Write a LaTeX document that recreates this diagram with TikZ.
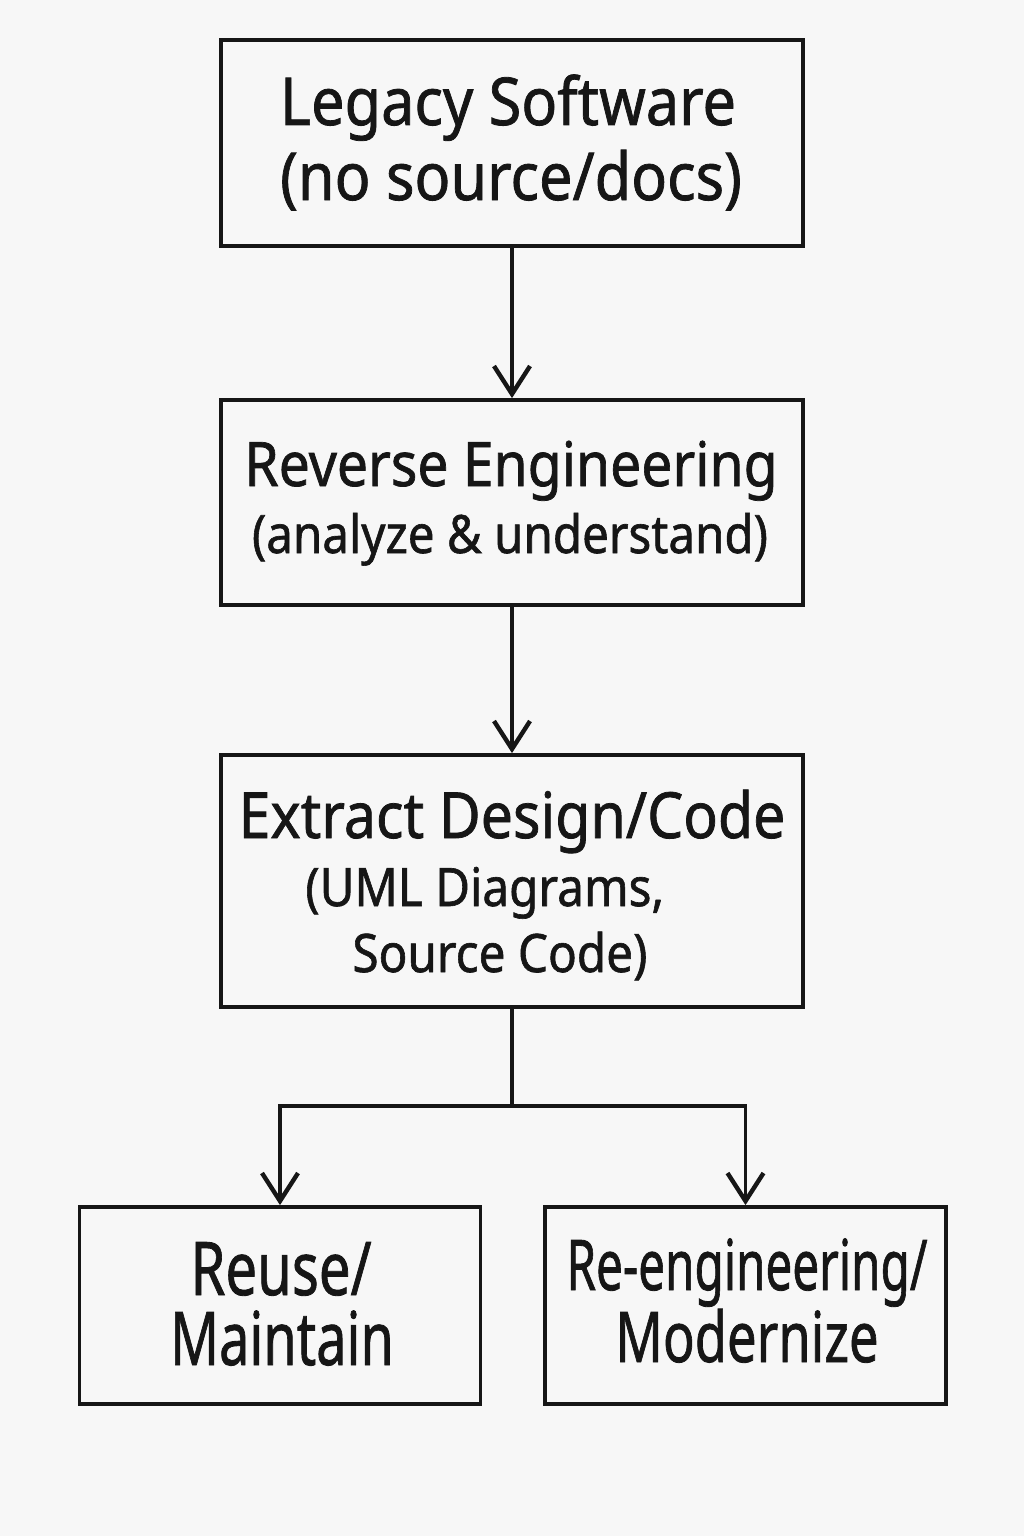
\documentclass[tikz,border=0pt]{standalone}
\usepackage{fontspec}
\usepackage{graphicx}
\setmainfont{Noto Sans}[FakeBold=1.2]
\usetikzlibrary{arrows.meta}
\definecolor{bg}{HTML}{F7F7F7}
\definecolor{ink}{HTML}{161616}
\newcommand{\fs}[1]{\fontsize{#1}{#1}\selectfont}
\newcommand{\sx}[2]{\scalebox{#1}[1]{#2}}
\tikzset{
  box/.style={draw=ink, line width=1.9pt, fill=none, inner sep=0pt},
  txt/.style={anchor=base, inner sep=0pt, text=ink},
  conn/.style={draw=ink, line width=1.8pt},
  arr/.style={conn, -{Straight Barb[length=14pt,width=18pt,line width=2.2pt]}}
}
\begin{document}
\begin{tikzpicture}[x=0.5pt,y=-0.5pt]
\fill[bg] (0,0) rectangle (1024,1536);
\useasboundingbox (0,0) rectangle (1024,1536);

\node[box, minimum width=291pt, minimum height=103pt] (b1) at (512,143) {};
\node[box, minimum width=291pt, minimum height=102.5pt] (b2) at (512,502.5) {};
\node[box, minimum width=291pt, minimum height=126pt] (b3) at (512,881) {};
\node[box, minimum width=200.5pt, minimum height=98.5pt] (b4) at (280,1305.5) {};
\node[box, minimum width=200.5pt, minimum height=98.5pt] (b5) at (745.5,1305.5) {};

\node[txt, font=\fs{33pt}] (t11) at (508,125) {\sx{0.9}{Legacy Software}};
\node[txt, font=\fs{33pt}] (t12) at (511,200) {\sx{0.9}{(no source/docs)}};

\node[txt, font=\fs{30.7pt}] (t21) at (511,486) {\sx{0.9}{Reverse Engineering}};
\node[txt, font=\fs{26.4pt}] (t22) at (510,553) {\sx{0.9}{(analyze \& understand)}};

\node[txt, font=\fs{31.8pt}] (t31) at (512,838) {\sx{0.9}{Extract Design/Code}};
\node[txt, font=\fs{26.5pt}, anchor=base west] (t32) at (305,906) {\sx{0.9}{(UML Diagrams,}};
\node[txt, font=\fs{26.5pt}, anchor=base west] (t33) at (352,972) {\sx{0.9}{Source Code)}};

\node[txt, font=\fs{37pt}] (t41) at (281,1295) {\sx{0.76}{Reuse/}};
\node[txt, font=\fs{37pt}] (t42) at (282,1365) {\sx{0.73}{Maintain}};

\node[txt, font=\fs{35pt}] (t51) at (747,1290) {\sx{0.68}{Re-engineering/}};
\node[txt, font=\fs{35pt}] (t52) at (747,1362) {\sx{0.75}{Modernize}};

\coordinate (split) at (512,1106);
\draw[arr] (b1.south) -- (b2.north);
\draw[arr] (b2.south) -- (b3.north);
\draw[conn] (b3.south) -- (split);
\draw[arr] (split) -| (b4.north);
\draw[arr] (split) -| (b5.north);
\end{tikzpicture}
\end{document}
